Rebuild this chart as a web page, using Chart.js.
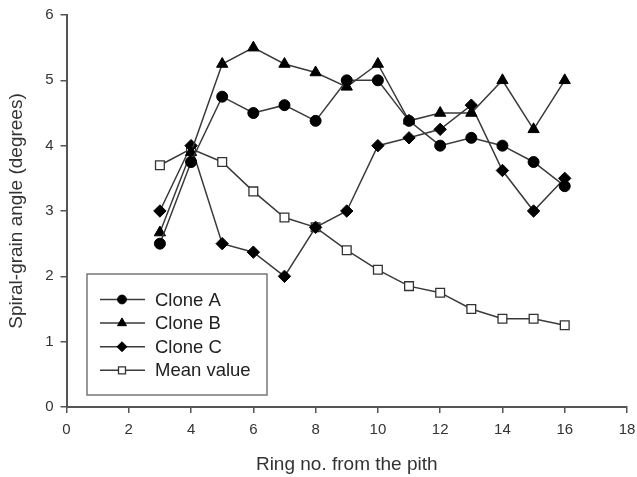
<!DOCTYPE html>
<html><head><meta charset="utf-8">
<script src="https://cdn.jsdelivr.net/npm/chart.js@4/dist/chart.umd.min.js"></script>
<style>html,body{margin:0;padding:0;background:#fff}#wrap{width:637px;height:477px}</style>
</head><body><div id="wrap"><canvas id="c" width="637" height="477"></canvas></div>
<script>
// ---- data ----
const rings   = [3, 4, 5, 6, 7, 8, 9, 10, 11, 12, 13, 14, 15, 16];
const cloneA  = [2.5, 3.75, 4.75, 4.5, 4.62, 4.38, 5.0, 5.0, 4.38, 4.0, 4.12, 4.0, 3.75, 3.38];
const cloneB  = [2.67, 3.9, 5.25, 5.5, 5.25, 5.12, 4.9, 5.25, 4.38, 4.5, 4.5, 5.0, 4.25, 5.0];
const cloneC  = [3.0, 4.0, 2.5, 2.37, 2.0, 2.75, 3.0, 4.0, 4.12, 4.25, 4.62, 3.62, 3.0, 3.5];
const meanVal = [3.7, 3.95, 3.75, 3.3, 2.9, 2.75, 2.4, 2.1, 1.85, 1.75, 1.5, 1.35, 1.35, 1.25];
const seriesLabels = ['Clone A', 'Clone B', 'Clone C', 'Mean value'];
const xTicks = [0, 2, 4, 6, 8, 10, 12, 14, 16, 18];
const yTicks = [0, 1, 2, 3, 4, 5, 6];
const xTitle = 'Ring no. from the pith';
const yTitle = 'Spiral-grain angle (degrees)';

Chart.defaults.font.family = "'Liberation Sans', Arial, Helvetica, sans-serif";
const toXY = arr => arr.map((v, i) => ({x: rings[i], y: v}));

const lineCol = '#3a3a3a';
function ds(label, values, style, radius, fill) {
  return {
    label, data: toXY(values), borderColor: lineCol, borderWidth: 1.5,
    pointStyle: style, pointRadius: radius, pointBackgroundColor: fill,
    pointBorderColor: fill === '#fff' ? '#333' : '#000', pointBorderWidth: fill === '#fff' ? 1.3 : 1,
    tension: 0, fill: false
  };
}

const legendPlugin = {
  id: 'boxLegend',
  afterDraw(chart) {
    const ctx = chart.ctx;
    ctx.save();
    ctx.strokeStyle = '#777';
    ctx.lineWidth = 1.5;
    ctx.strokeRect(87, 274, 180, 121);
    chart.data.datasets.forEach((d, i) => {
      const y = 299.5 + i * 23.6;
      ctx.strokeStyle = d.borderColor;
      ctx.lineWidth = 1.5;
      ctx.beginPath(); ctx.moveTo(100, y); ctx.lineTo(145, y); ctx.stroke();
      ctx.fillStyle = d.pointBackgroundColor;
      ctx.strokeStyle = d.pointBorderColor;
      ctx.lineWidth = d.pointBorderWidth;
      Chart.helpers.drawPoint(ctx, {pointStyle: d.pointStyle, radius: d.pointRadius * 0.8, rotation: 0, borderWidth: d.pointBorderWidth}, 122, y);
      ctx.fillStyle = '#222';
      ctx.font = "18.5px 'Liberation Sans', Arial, sans-serif";
      ctx.textBaseline = 'middle';
      ctx.textAlign = 'left';
      ctx.fillText(d.label, 155, y + 1);
    });
    ctx.restore();
  }
};

new Chart(document.getElementById('c'), {
  type: 'line',
  data: {
    datasets: [
      ds(seriesLabels[0], cloneA, 'circle', 5.5, '#000'),
      ds(seriesLabels[1], cloneB, 'triangle', 6.5, '#000'),
      ds(seriesLabels[2], cloneC, 'rectRot', 6.2, '#000'),
      ds(seriesLabels[3], meanVal, 'rect', 6.2, '#fff')
    ]
  },
  options: {
    responsive: false, devicePixelRatio: 1, animation: false,
    layout: {padding: {top: 15, right: 10, left: 0, bottom: 0}},
    plugins: {legend: {display: false}, tooltip: {enabled: false}},
    scales: {
      x: {
        type: 'linear', min: 0, max: 18, position: 'bottom',
        afterBuildTicks(s) { s.ticks = xTicks.map(v => ({value: v})); },
        afterFit(s) { s.height = 70; s.paddingRight = 0; s.paddingLeft = 0; },
        grid: {drawOnChartArea: false, drawTicks: true, tickLength: 6, color: '#555', lineWidth: 1.5},
        border: {display: true, color: '#555', width: 2},
        ticks: {font: {size: 15}, color: '#333', padding: 8, maxRotation: 0, autoSkip: false},
        title: {display: true, text: xTitle, font: {size: 19}, color: '#333', padding: {top: 0, bottom: 1}}
      },
      y: {
        type: 'linear', min: 0, max: 6, position: 'left',
        afterBuildTicks(s) { s.ticks = yTicks.map(v => ({value: v})); },
        afterFit(s) { s.width = 66.5; s.paddingTop = 0; s.paddingBottom = 0; },
        grid: {drawOnChartArea: false, drawTicks: true, tickLength: 6, color: '#555', lineWidth: 1.5},
        border: {display: true, color: '#555', width: 2},
        ticks: {font: {size: 15}, color: '#333', padding: 7},
        title: {display: true, text: yTitle, font: {size: 19}, color: '#333', padding: {top: 5, bottom: 0}}
      }
    }
  },
  plugins: [legendPlugin]
});
</script>
</body></html>
